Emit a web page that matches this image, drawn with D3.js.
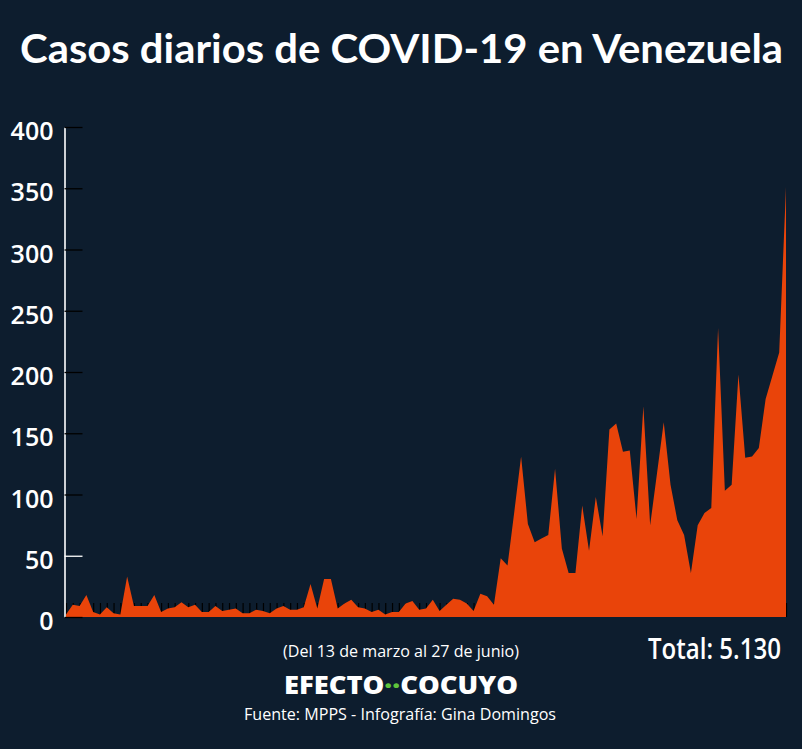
<!DOCTYPE html>
<html lang="es">
<head>
<meta charset="utf-8">
<title>Casos diarios de COVID-19 en Venezuela</title>
<script src="https://cdnjs.cloudflare.com/ajax/libs/d3/7.8.5/d3.min.js"></script>
<style>
  body { margin: 0; background: #0d1d2e; }
  svg { display: block; }
</style>
</head>
<body>
<svg id="chart" width="802" height="749"></svg>
<script>
// casos nuevos por dia, 13 de marzo - 27 de junio
var casos = [
  2, 10, 9, 18, 4, 2, 8, 3, 2, 33,
  9, 9, 9, 18, 4, 7, 8, 12, 8, 10,
  4, 4, 9, 5, 6, 7, 3, 3, 6, 5,
  3, 7, 9, 6, 6, 8, 27,
  7, 31, 31, 7, 11, 14, 8, 7, 4, 6, 2, 4, 4, 11, 13, 6, 7, 14, 5, 10, 15, 14, 11, 5, 19, 17, 10,
  48, 42,
  86, 131, 76, 61, 64, 67, 121, 56, 36, 36, 91, 54, 98, 66, 153, 158, 135, 136, 80, 172,
  75, 117, 159, 108, 79, 67, 36, 75, 85, 89,
  236, 103, 108, 198, 130, 131, 138, 178, 197, 216, 351
];
var yTicks = [0, 50, 100, 150, 200, 250, 300, 350, 400];
var inicio = new Date(2020, 2, 13);
var fin = new Date(2020, 5, 27);
var fechas = d3.timeDay.range(inicio, d3.timeDay.offset(fin, 1));

var titulo = "Casos diarios de COVID-19 en Venezuela";
var periodo = "(Del 13 de marzo al 27 de junio)";
var total = "Total: 5.130";
var fuente = "Fuente: MPPS - Infografía: Gina Domingos";

var data = fechas.map(function(d, i) { return { fecha: d, casos: casos[i] }; });

var svg = d3.select("#chart");
var fondo = "#0d1d2e";
var naranja = "#e9440a";

svg.append("rect").attr("width", 802).attr("height", 749).attr("fill", fondo);

var x = d3.scaleTime().domain([inicio, fin]).range([66, 786]);
var y = d3.scaleLinear().domain([0, 400]).range([617, 127]);

// ticks diarios (quedan debajo del area)
svg.append("g")
  .attr("transform", "translate(0,617)")
  .call(d3.axisBottom(x).ticks(d3.timeDay.every(1)).tickSize(-14).tickFormat(""))
  .call(function(g) {
    g.select(".domain").remove();
    g.selectAll(".tick line").attr("stroke", "#000").attr("stroke-width", 1.2);
  });

var area = d3.area()
  .x(function(d) { return x(d.fecha); })
  .y0(y(0))
  .y1(function(d) { return y(d.casos); });

svg.append("path")
  .datum(data)
  .attr("d", area)
  .attr("fill", naranja);

// eje y
svg.append("g")
  .attr("transform", "translate(64.5,0)")
  .call(d3.axisLeft(y).tickValues(yTicks).tickSizeInner(-18).tickSizeOuter(0).tickPadding(11))
  .call(function(g) {
    g.select(".domain").attr("stroke", "#fff").attr("stroke-width", 1.6);
    g.selectAll(".tick line")
      .attr("stroke", function(d) { return d == 50 ? "#fff" : "#000"; })
      .attr("stroke-width", 1.3);
    g.selectAll(".tick text")
      .attr("fill", "#fff")
      .attr("dy", "0.5em")
      .attr("font-family", "'Open Sans', sans-serif")
      .attr("font-weight", 600)
      .attr("font-size", 25);
  });

// textos
function texto(t, xx, yy, size, weight, ancho, anchor) {
  var el = svg.append("text")
    .attr("x", xx).attr("y", yy)
    .attr("fill", "#fff")
    .attr("font-family", "'Open Sans', sans-serif")
    .attr("font-size", size)
    .attr("font-weight", weight)
    .attr("text-anchor", anchor || "middle")
    .text(t);
  if (ancho) el.attr("textLength", ancho).attr("lengthAdjust", "spacingAndGlyphs");
  return el;
}

texto(titulo, 401.5, 63, 41, 700, 763).attr("font-family", "Lato, sans-serif");
texto(periodo, 401, 657, 16, 400, 236);
texto(total, 781, 659, 28, 600, 133, "end");
texto(fuente, 400, 720, 16, 400, 312);

var logo = svg.append("text")
  .attr("x", 401).attr("y", 694)
  .attr("fill", "#fff")
  .attr("font-family", "'Open Sans', sans-serif")
  .attr("font-size", 24)
  .attr("font-weight", 800)
  .attr("text-anchor", "middle")
  .attr("textLength", 234)
  .attr("lengthAdjust", "spacingAndGlyphs");
logo.append("tspan").text("EFECTO");
logo.append("tspan").attr("fill", "#5fc43c").text("··");
logo.append("tspan").text("COCUYO");
</script>
</body>
</html>
